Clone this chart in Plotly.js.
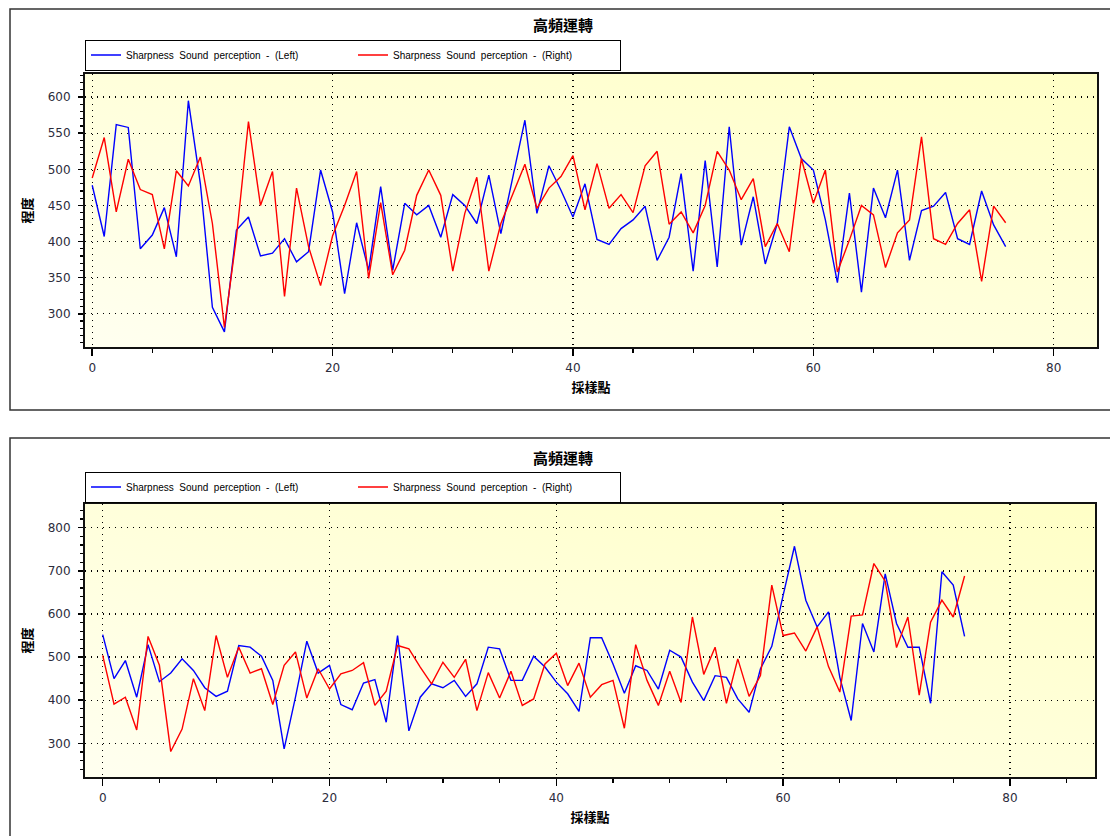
<!DOCTYPE html>
<html>
<head>
<meta charset="utf-8">
<script src="https://cdn.plot.ly/plotly-3.0.1.min.js"></script>
<style>html,body{margin:0;padding:0;background:#fff;}#chart{width:1110px;height:836px;}</style>
</head>
<body>
<div id="chart"></div>
<script>
// ---- data ----
var samplePoints = [];
for (var k = 0; k <= 76; k++) samplePoints.push(k);

var titleText = "高頻運轉";
var xTitle = "採樣點";
var yTitle = "程度";
var leftName = "Sharpness  Sound  perception  -  (Left)";
var rightName = "Sharpness  Sound  perception  -  (Right)";

var topLeft = [478,407,562,558,390,409,447,379,595,480,309,275,416,434,380,384,404,372,386,499,
  441,328,426,360,476,360,453,437,450,406,465,450,425,492,411,488,568,439,505,471,
  434,480,403,396,418,430,449,374,406,494,359,512,365,559,395,462,369,425,559,515,
  499,430,343,467,330,474,433,499,374,443,449,468,404,396,470,423,393];
var topRight = [488,544,441,514,472,465,390,498,477,517,425,281,406,566,450,497,324,474,393,339,
  408,450,497,349,454,354,388,464,499,464,359,439,489,359,425,467,507,446,474,490,
  519,444,508,446,465,440,505,525,424,441,412,450,525,499,458,487,393,425,386,515,
  453,499,358,402,450,437,364,412,430,545,404,396,425,444,345,449,426];
var botLeft = [552,450,492,407,529,443,463,496,469,429,409,421,527,523,502,446,287,407,537,463,
  481,390,378,440,448,349,550,329,407,438,429,446,409,438,523,519,446,446,502,477,
  442,415,374,545,545,484,416,480,469,426,516,500,442,399,457,453,403,372,473,525,
  643,757,632,570,605,453,353,578,512,693,578,523,523,393,698,667,548];
var botRight = [504,391,407,331,548,481,281,333,450,376,550,453,523,463,473,390,481,512,405,473,
  426,461,469,487,388,421,527,519,477,438,488,453,495,376,464,405,467,388,403,484,
  509,434,486,407,436,446,335,529,446,388,467,395,593,460,523,393,496,409,457,667,
  550,556,514,570,478,419,595,598,717,676,522,593,412,581,632,593,688];

// ---- helpers ----
var W = 1110, H = 836;
function px(x){return x/W;}
function py(y){return 1 - y/H;}

var tickFont = {family:'DejaVu Sans', size:12, color:'#2c2c3c'};
var titleFont = {family:'Noto Sans CJK TC', size:13, color:'#000'};

function mainX(domain, anchor, range){
  return {domain:domain, anchor:anchor, range:range, tick0:0, dtick:20,
    ticks:'outside', ticklen:7, tickwidth:1.5, tickcolor:'#000',
    minor:{dtick:5, ticks:'outside', ticklen:4, tickwidth:1.2, tickcolor:'#000', showgrid:false},
    showgrid:true, gridcolor:'#000', griddash:'1.4px,4.6px', gridwidth:1.4,
    showline:true, linecolor:'#111', linewidth:2, mirror:true, zeroline:false,
    tickfont:tickFont, ticklabelstandoff:2,
    title:{text:'<b>'+xTitle+'</b>', font:titleFont, standoff:8}};
}
function mainY(domain, anchor, range, dt, mdt){
  return {domain:domain, anchor:anchor, range:range, tick0:0, dtick:dt,
    ticks:'outside', ticklen:5, tickwidth:1.5, tickcolor:'#000',
    minor:{dtick:mdt, ticks:'outside', ticklen:3, tickwidth:1.2, tickcolor:'#000', showgrid:false},
    showgrid:true, gridcolor:'#000', griddash:'1.4px,4.6px', gridwidth:1.4,
    showline:true, linecolor:'#111', linewidth:2, mirror:true, zeroline:false,
    tickfont:tickFont, ticklabelstandoff:5,
    title:{text:'<b>'+yTitle+'</b>', font:titleFont, standoff:12}};
}
function overX(over, anchor, range){
  return {overlaying:over, anchor:anchor, side:'top', range:range, tick0:0, dtick:5,
    ticks:'inside', ticklen:4, tickwidth:1.2, tickcolor:'#000', showticklabels:false,
    showgrid:false, zeroline:false, showline:false};
}
function overY(over, anchor, range, mdt){
  return {overlaying:over, anchor:anchor, side:'right', range:range, tick0:0, dtick:mdt,
    ticks:'inside', ticklen:4, tickwidth:1.2, tickcolor:'#000', showticklabels:false,
    showgrid:false, zeroline:false, showline:false};
}

var xr1 = [-0.6, 83.6], yr1 = [254, 632];
var xr2 = [-1.56, 87.5], yr2 = [222, 855];
var xd1 = [px(85), px(1097)], yd1 = [py(347), py(74)];
var xd2 = [px(85), px(1095)], yd2 = [py(777), py(504)];

var traces = [
  {x:samplePoints, y:topLeft, name:leftName, type:'scatter', mode:'lines', line:{color:'#0000ff', width:1.4}, xaxis:'x', yaxis:'y', legend:'legend'},
  {x:samplePoints, y:topRight, name:rightName, type:'scatter', mode:'lines', line:{color:'#ff0000', width:1.4}, xaxis:'x', yaxis:'y', legend:'legend'},
  {x:samplePoints, y:botLeft, name:leftName, type:'scatter', mode:'lines', line:{color:'#0000ff', width:1.4}, xaxis:'x2', yaxis:'y2', legend:'legend2'},
  {x:samplePoints, y:botRight, name:rightName, type:'scatter', mode:'lines', line:{color:'#ff0000', width:1.4}, xaxis:'x2', yaxis:'y2', legend:'legend2'}
];

var bgSvg = '<svg xmlns="http://www.w3.org/2000/svg" width="100" height="100" preserveAspectRatio="none"><defs><linearGradient id="g" x1="0" y1="1" x2="1" y2="0"><stop offset="0" stop-color="#FFFFF0"/><stop offset="1" stop-color="#FFFFC6"/></linearGradient></defs><rect width="100" height="100" fill="url(#g)"/></svg>';
var bgSrc = 'data:image/svg+xml;charset=utf-8,' + encodeURIComponent(bgSvg);

function legendCfg(ymid){
  return {x:px(85), y:py(ymid), xanchor:'left', yanchor:'middle', orientation:'h',
    bgcolor:'#fff', bordercolor:'#000', borderwidth:1,
    font:{family:'Liberation Sans', size:10, color:'#000'},
    entrywidth:222, entrywidthmode:'pixels', itemwidth:30, tracegroupgap:0};
}

var layout = {
  width:W, height:H, margin:{l:0,r:0,t:0,b:0},
  paper_bgcolor:'#fff', plot_bgcolor:'rgba(0,0,0,0)',
  showlegend:true,
  xaxis: mainX(xd1, 'y', xr1),
  yaxis: mainY(yd1, 'x', yr1, 50, 10),
  xaxis2: mainX(xd2, 'y2', xr2),
  yaxis2: mainY(yd2, 'x2', yr2, 100, 20),
  xaxis3: overX('x', 'y', xr1),
  yaxis3: overY('y', 'x', yr1, 10),
  xaxis4: overX('x2', 'y2', xr2),
  yaxis4: overY('y2', 'x2', yr2, 20),
  legend: legendCfg(55),
  legend2: legendCfg(487),
  images:[
    {source:bgSrc, xref:'paper', yref:'paper', x:xd1[0], y:yd1[1], sizex:xd1[1]-xd1[0], sizey:yd1[1]-yd1[0], sizing:'stretch', xanchor:'left', yanchor:'top', layer:'below'},
    {source:bgSrc, xref:'paper', yref:'paper', x:xd2[0], y:yd2[1], sizex:xd2[1]-xd2[0], sizey:yd2[1]-yd2[0], sizing:'stretch', xanchor:'left', yanchor:'top', layer:'below'}
  ],
  shapes:[
    {type:'rect', xref:'paper', yref:'paper', x0:px(10), x1:1.02, y0:py(410), y1:py(9), line:{color:'#333', width:1.5}, layer:'below'},
    {type:'rect', xref:'paper', yref:'paper', x0:px(10), x1:1.02, y0:-0.05, y1:py(438), line:{color:'#333', width:1.5}, layer:'below'}
  ],
  annotations:[
    {text:'<b>'+titleText+'</b>', xref:'paper', yref:'paper', x:px(563), y:py(25), xanchor:'center', yanchor:'middle', showarrow:false, font:{family:'Noto Sans CJK TC', size:15, color:'#000'}},
    {text:'<b>'+titleText+'</b>', xref:'paper', yref:'paper', x:px(563), y:py(457), xanchor:'center', yanchor:'middle', showarrow:false, font:{family:'Noto Sans CJK TC', size:15, color:'#000'}}
  ]
};

Plotly.newPlot('chart', traces, layout, {displayModeBar:false, staticPlot:true});
</script>
</body>
</html>
